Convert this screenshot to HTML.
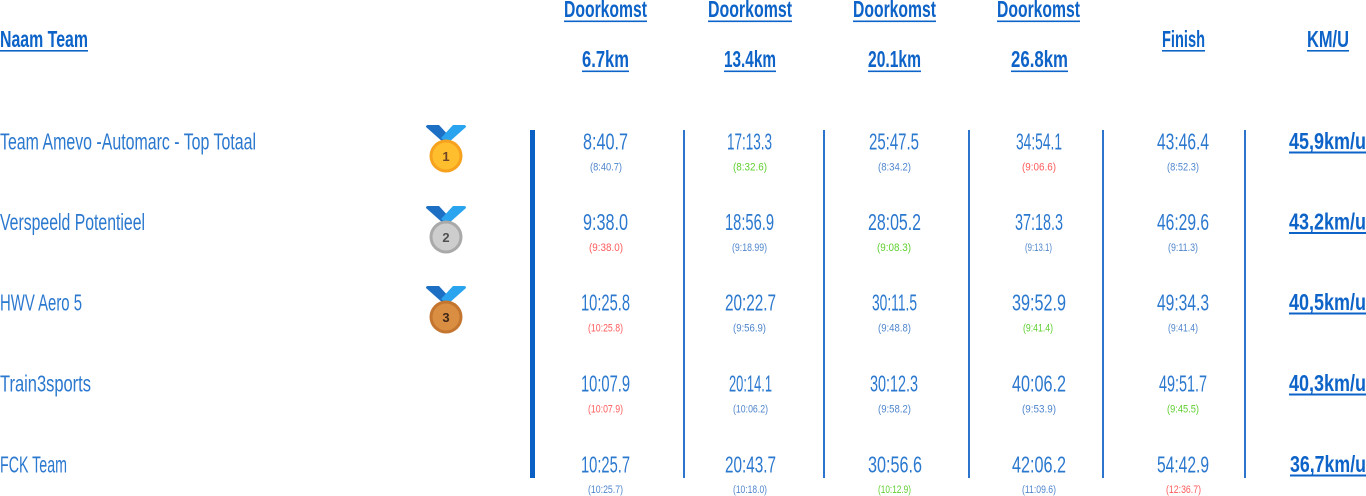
<!DOCTYPE html>
<html>
<head>
<meta charset="utf-8">
<style>
  html,body{margin:0;padding:0;background:#ffffff;}
  body{width:1366px;height:496px;overflow:hidden;}
  svg{display:block;}
  .h{font-family:"Liberation Sans Narrow","Liberation Sans",sans-serif;font-weight:bold;font-size:23px;fill:#0d63c8;}
  .t{font-family:"Liberation Sans Narrow","Liberation Sans",sans-serif;font-size:23px;fill:#2b78cf;}
  .k{font-family:"Liberation Sans Narrow","Liberation Sans",sans-serif;font-weight:bold;font-size:23px;fill:#0d63c8;}
  .s{font-family:"Liberation Sans Narrow","Liberation Sans",sans-serif;font-size:11px;}
  .b{fill:#4f86cc;} .r{fill:#ff5b5b;} .g{fill:#5fcf2f;}
  .n{font-family:"Liberation Sans","DejaVu Sans",sans-serif;font-weight:bold;font-size:13px;}
</style>
</head>
<body>
<svg width="1366" height="496" viewBox="0 0 1366 496" xmlns="http://www.w3.org/2000/svg">
  <!-- Headers -->
  <text class="h" x="0" y="47" textLength="88" lengthAdjust="spacingAndGlyphs">Naam Team</text>
  <rect x="0" y="50" width="88" height="1.6" fill="#0d63c8"/>

  <text class="h" x="564" y="17" textLength="83" lengthAdjust="spacingAndGlyphs">Doorkomst</text>
  <rect x="564" y="20.5" width="83" height="1.6" fill="#0d63c8"/>
  <text class="h" x="582" y="67" textLength="47" lengthAdjust="spacingAndGlyphs">6.7km</text>
  <rect x="582" y="70.5" width="47" height="1.6" fill="#0d63c8"/>

  <text class="h" x="708" y="17" textLength="84" lengthAdjust="spacingAndGlyphs">Doorkomst</text>
  <rect x="708" y="20.5" width="84" height="1.6" fill="#0d63c8"/>
  <text class="h" x="724" y="67" textLength="52" lengthAdjust="spacingAndGlyphs">13.4km</text>
  <rect x="724" y="70.5" width="52" height="1.6" fill="#0d63c8"/>

  <text class="h" x="853" y="17" textLength="83" lengthAdjust="spacingAndGlyphs">Doorkomst</text>
  <rect x="853" y="20.5" width="83" height="1.6" fill="#0d63c8"/>
  <text class="h" x="868" y="67" textLength="53" lengthAdjust="spacingAndGlyphs">20.1km</text>
  <rect x="868" y="70.5" width="53" height="1.6" fill="#0d63c8"/>

  <text class="h" x="997" y="17" textLength="83" lengthAdjust="spacingAndGlyphs">Doorkomst</text>
  <rect x="997" y="20.5" width="83" height="1.6" fill="#0d63c8"/>
  <text class="h" x="1011" y="67" textLength="57" lengthAdjust="spacingAndGlyphs">26.8km</text>
  <rect x="1011" y="70.5" width="57" height="1.6" fill="#0d63c8"/>

  <text class="h" x="1162" y="47" textLength="43" lengthAdjust="spacingAndGlyphs">Finish</text>
  <rect x="1162" y="50" width="43" height="1.6" fill="#0d63c8"/>

  <text class="h" x="1307" y="47" textLength="42" lengthAdjust="spacingAndGlyphs">KM/U</text>
  <rect x="1307" y="50" width="42" height="1.6" fill="#0d63c8"/>

  <!-- Vertical lines -->
  <rect x="530" y="130" width="5" height="348" fill="#0a60c5"/>
  <rect x="683" y="130" width="2" height="348" fill="#2c74cc"/>
  <rect x="823" y="130" width="2" height="348" fill="#2c74cc"/>
  <rect x="968" y="130" width="2" height="348" fill="#2c74cc"/>
  <rect x="1102" y="130" width="2" height="348" fill="#2c74cc"/>
  <rect x="1244" y="130" width="2" height="348" fill="#2c74cc"/>

  <!-- Team names -->
  <text class="t" x="0" y="149.5" textLength="256" lengthAdjust="spacingAndGlyphs">Team Amevo -Automarc - Top Totaal</text>
  <text class="t" x="0" y="230" textLength="145" lengthAdjust="spacingAndGlyphs">Verspeeld Potentieel</text>
  <text class="t" x="0" y="310.5" textLength="82" lengthAdjust="spacingAndGlyphs">HWV Aero 5</text>
  <text class="t" x="0" y="391.5" textLength="91" lengthAdjust="spacingAndGlyphs">Train3sports</text>
  <text class="t" x="0" y="472.5" textLength="67" lengthAdjust="spacingAndGlyphs">FCK Team</text>

  <!-- Medals -->
  <g>
    <path d="M426,127 Q426,125 428,125 L439,125 L451,138 L444,143 Z" fill="#1d6fc4"/>
    <path d="M466,127 Q466,125 464,125 L453,125 L441,138 L448,143 Z" fill="#2aa4ee"/>
    <circle cx="446" cy="156" r="16.5" fill="#f6a21e"/>
    <circle cx="446" cy="156" r="13.5" fill="#ffbe2e"/>
    <text class="n" x="446" y="161" text-anchor="middle" fill="#6e4526">1</text>
  </g>
  <g>
    <path d="M426,208 Q426,206 428,206 L439,206 L451,219 L444,224 Z" fill="#1d6fc4"/>
    <path d="M466,208 Q466,206 464,206 L453,206 L441,219 L448,224 Z" fill="#2aa4ee"/>
    <circle cx="446" cy="237" r="16.5" fill="#a9a9a9"/>
    <circle cx="446" cy="237" r="13.5" fill="#cdcdcd"/>
    <text class="n" x="446" y="242" text-anchor="middle" fill="#505050">2</text>
  </g>
  <g>
    <path d="M426,288 Q426,286 428,286 L439,286 L451,299 L444,304 Z" fill="#1d6fc4"/>
    <path d="M466,288 Q466,286 464,286 L453,286 L441,299 L448,304 Z" fill="#2aa4ee"/>
    <circle cx="446" cy="317" r="16.5" fill="#c47530"/>
    <circle cx="446" cy="317" r="13.5" fill="#d98e42"/>
    <text class="n" x="446" y="322" text-anchor="middle" fill="#3e2618">3</text>
  </g>

  <!-- Row 1 -->
  <text class="t" x="583" y="149.5" textLength="45" lengthAdjust="spacingAndGlyphs">8:40.7</text>
  <text class="t" x="727" y="149.5" textLength="45" lengthAdjust="spacingAndGlyphs">17:13.3</text>
  <text class="t" x="869" y="149.5" textLength="50" lengthAdjust="spacingAndGlyphs">25:47.5</text>
  <text class="t" x="1016" y="149.5" textLength="46" lengthAdjust="spacingAndGlyphs">34:54.1</text>
  <text class="t" x="1157" y="149.5" textLength="52" lengthAdjust="spacingAndGlyphs">43:46.4</text>
  <text class="s b" x="590" y="170.5" textLength="32" lengthAdjust="spacingAndGlyphs">(8:40.7)</text>
  <text class="s g" x="733" y="170.5" textLength="34" lengthAdjust="spacingAndGlyphs">(8:32.6)</text>
  <text class="s b" x="878" y="170.5" textLength="33" lengthAdjust="spacingAndGlyphs">(8:34.2)</text>
  <text class="s r" x="1022" y="170.5" textLength="34" lengthAdjust="spacingAndGlyphs">(9:06.6)</text>
  <text class="s b" x="1167" y="170.5" textLength="32" lengthAdjust="spacingAndGlyphs">(8:52.3)</text>
  <text class="k" x="1289" y="149" textLength="77" lengthAdjust="spacingAndGlyphs">45,9km/u</text>
  <rect x="1289" y="151.5" width="77" height="2" fill="#0d63c8"/>

  <!-- Row 2 -->
  <text class="t" x="583" y="230" textLength="45" lengthAdjust="spacingAndGlyphs">9:38.0</text>
  <text class="t" x="725" y="230" textLength="49" lengthAdjust="spacingAndGlyphs">18:56.9</text>
  <text class="t" x="868" y="230" textLength="53" lengthAdjust="spacingAndGlyphs">28:05.2</text>
  <text class="t" x="1015" y="230" textLength="48" lengthAdjust="spacingAndGlyphs">37:18.3</text>
  <text class="t" x="1157" y="230" textLength="52" lengthAdjust="spacingAndGlyphs">46:29.6</text>
  <text class="s r" x="589" y="251" textLength="34" lengthAdjust="spacingAndGlyphs">(9:38.0)</text>
  <text class="s b" x="732" y="251" textLength="35" lengthAdjust="spacingAndGlyphs">(9:18.99)</text>
  <text class="s g" x="877" y="251" textLength="34" lengthAdjust="spacingAndGlyphs">(9:08.3)</text>
  <text class="s b" x="1025" y="251" textLength="27" lengthAdjust="spacingAndGlyphs">(9:13.1)</text>
  <text class="s b" x="1168" y="251" textLength="30" lengthAdjust="spacingAndGlyphs">(9:11.3)</text>
  <text class="k" x="1289" y="229.5" textLength="77" lengthAdjust="spacingAndGlyphs">43,2km/u</text>
  <rect x="1289" y="232" width="77" height="2" fill="#0d63c8"/>

  <!-- Row 3 -->
  <text class="t" x="581" y="310.5" textLength="49" lengthAdjust="spacingAndGlyphs">10:25.8</text>
  <text class="t" x="725" y="310.5" textLength="51" lengthAdjust="spacingAndGlyphs">20:22.7</text>
  <text class="t" x="872" y="310.5" textLength="45" lengthAdjust="spacingAndGlyphs">30:11.5</text>
  <text class="t" x="1012" y="310.5" textLength="54" lengthAdjust="spacingAndGlyphs">39:52.9</text>
  <text class="t" x="1157" y="310.5" textLength="52" lengthAdjust="spacingAndGlyphs">49:34.3</text>
  <text class="s r" x="588" y="331.5" textLength="35" lengthAdjust="spacingAndGlyphs">(10:25.8)</text>
  <text class="s b" x="733" y="331.5" textLength="33" lengthAdjust="spacingAndGlyphs">(9:56.9)</text>
  <text class="s b" x="878" y="331.5" textLength="33" lengthAdjust="spacingAndGlyphs">(9:48.8)</text>
  <text class="s g" x="1023" y="331.5" textLength="30" lengthAdjust="spacingAndGlyphs">(9:41.4)</text>
  <text class="s b" x="1168" y="331.5" textLength="30" lengthAdjust="spacingAndGlyphs">(9:41.4)</text>
  <text class="k" x="1289" y="310" textLength="77" lengthAdjust="spacingAndGlyphs">40,5km/u</text>
  <rect x="1289" y="312.5" width="77" height="2" fill="#0d63c8"/>

  <!-- Row 4 -->
  <text class="t" x="581" y="391.5" textLength="49" lengthAdjust="spacingAndGlyphs">10:07.9</text>
  <text class="t" x="729" y="391.5" textLength="43" lengthAdjust="spacingAndGlyphs">20:14.1</text>
  <text class="t" x="870" y="391.5" textLength="48" lengthAdjust="spacingAndGlyphs">30:12.3</text>
  <text class="t" x="1012" y="391.5" textLength="54" lengthAdjust="spacingAndGlyphs">40:06.2</text>
  <text class="t" x="1159" y="391.5" textLength="48" lengthAdjust="spacingAndGlyphs">49:51.7</text>
  <text class="s r" x="588" y="412.5" textLength="35" lengthAdjust="spacingAndGlyphs">(10:07.9)</text>
  <text class="s b" x="733" y="412.5" textLength="35" lengthAdjust="spacingAndGlyphs">(10:06.2)</text>
  <text class="s b" x="878" y="412.5" textLength="33" lengthAdjust="spacingAndGlyphs">(9:58.2)</text>
  <text class="s b" x="1022" y="412.5" textLength="34" lengthAdjust="spacingAndGlyphs">(9:53.9)</text>
  <text class="s g" x="1167" y="412.5" textLength="32" lengthAdjust="spacingAndGlyphs">(9:45.5)</text>
  <text class="k" x="1289" y="391" textLength="77" lengthAdjust="spacingAndGlyphs">40,3km/u</text>
  <rect x="1289" y="393.5" width="77" height="2" fill="#0d63c8"/>

  <!-- Row 5 -->
  <text class="t" x="581" y="472.5" textLength="49" lengthAdjust="spacingAndGlyphs">10:25.7</text>
  <text class="t" x="725" y="472.5" textLength="51" lengthAdjust="spacingAndGlyphs">20:43.7</text>
  <text class="t" x="868" y="472.5" textLength="54" lengthAdjust="spacingAndGlyphs">30:56.6</text>
  <text class="t" x="1012" y="472.5" textLength="54" lengthAdjust="spacingAndGlyphs">42:06.2</text>
  <text class="t" x="1157" y="472.5" textLength="52" lengthAdjust="spacingAndGlyphs">54:42.9</text>
  <text class="s b" x="588" y="493" textLength="35" lengthAdjust="spacingAndGlyphs">(10:25.7)</text>
  <text class="s b" x="733" y="493" textLength="34" lengthAdjust="spacingAndGlyphs">(10:18.0)</text>
  <text class="s g" x="878" y="493" textLength="33" lengthAdjust="spacingAndGlyphs">(10:12.9)</text>
  <text class="s b" x="1022" y="493" textLength="34" lengthAdjust="spacingAndGlyphs">(11:09.6)</text>
  <text class="s r" x="1166" y="493" textLength="35" lengthAdjust="spacingAndGlyphs">(12:36.7)</text>
  <text class="k" x="1290" y="472" textLength="76" lengthAdjust="spacingAndGlyphs">36,7km/u</text>
  <rect x="1290" y="474.5" width="76" height="2" fill="#0d63c8"/>
</svg>
</body>
</html>
